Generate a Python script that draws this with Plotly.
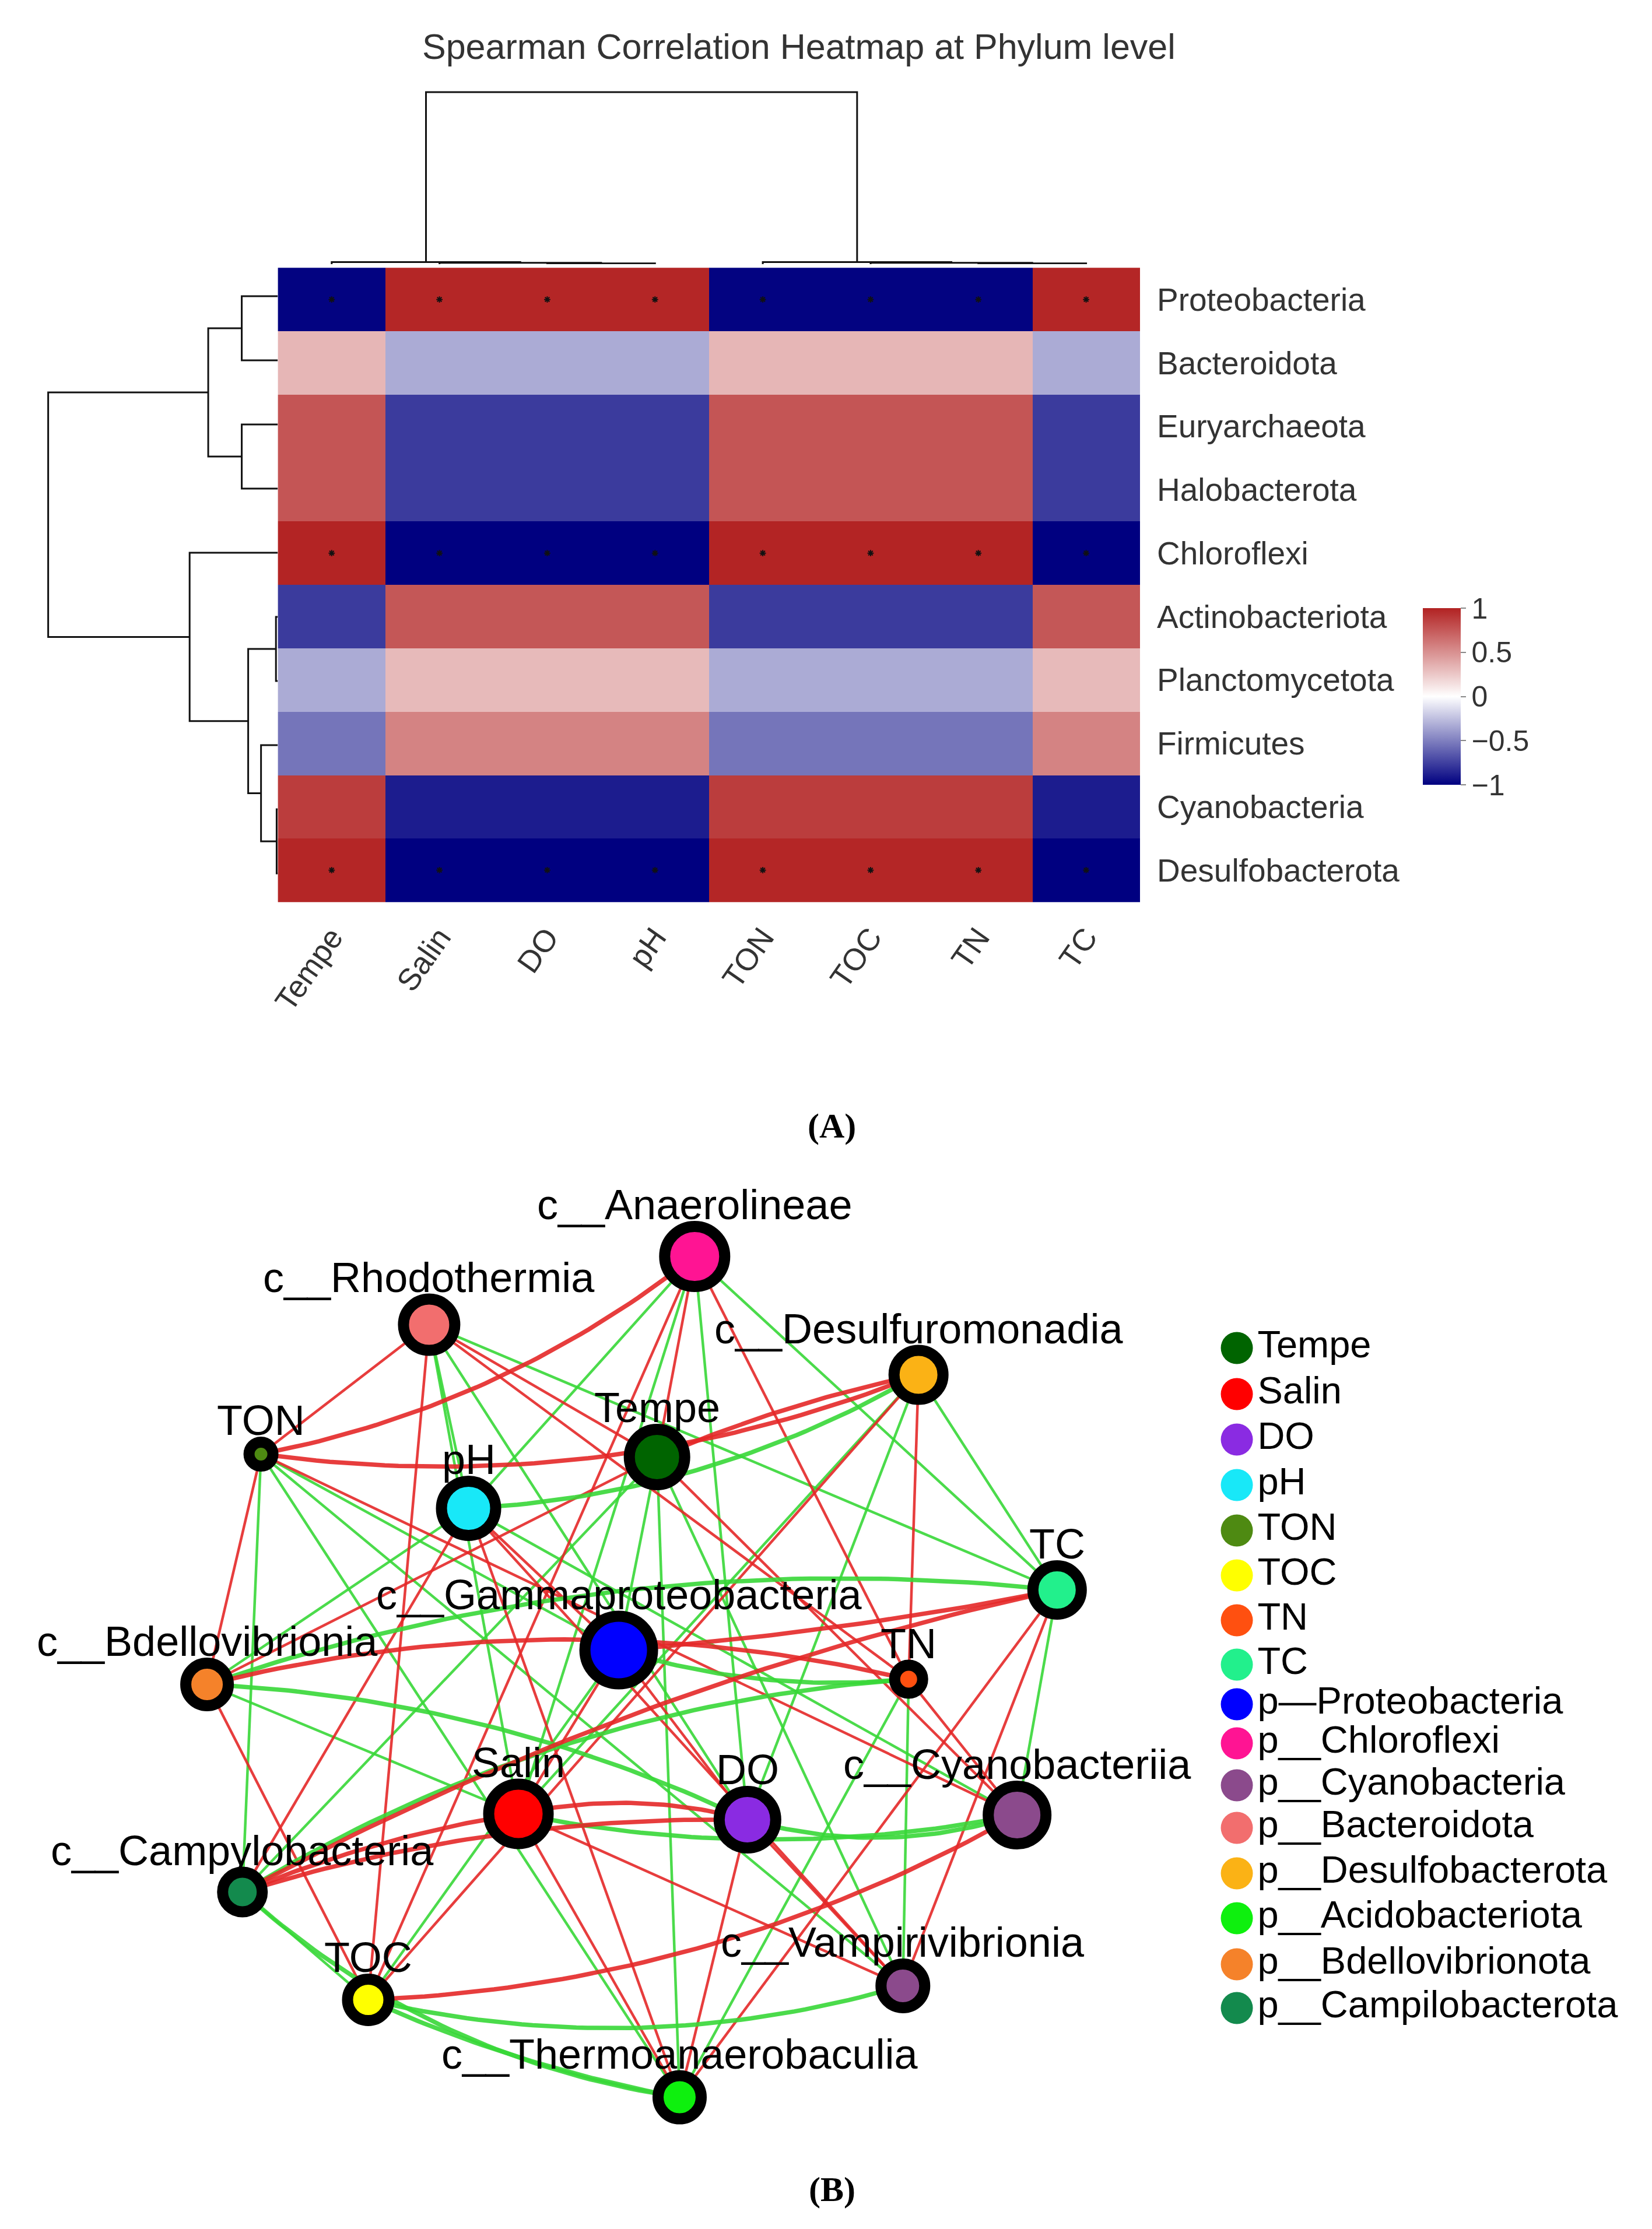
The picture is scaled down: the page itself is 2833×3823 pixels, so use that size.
import numpy as np
import plotly.graph_objects as go

W, H = 2833, 3823

# ======================= Panel A data =======================
env_vars = ["Tempe", "Salin", "DO", "pH", "TON", "TOC", "TN", "TC"]
phyla = ["Proteobacteria", "Bacteroidota", "Euryarchaeota", "Halobacterota", "Chloroflexi",
         "Actinobacteriota", "Planctomycetota", "Firmicutes", "Cyanobacteria", "Desulfobacterota"]

rho_proteobacteria   = [-0.99,  0.98,  0.98,  0.98, -0.99, -0.99, -0.99,  0.98]
rho_bacteroidota     = [ 0.33, -0.33, -0.33, -0.33,  0.33,  0.33,  0.33, -0.33]
rho_euryarchaeota    = [ 0.77, -0.77, -0.77, -0.77,  0.77,  0.77,  0.77, -0.77]
rho_halobacterota    = [ 0.77, -0.77, -0.77, -0.77,  0.77,  0.77,  0.77, -0.77]
rho_chloroflexi      = [ 0.99, -1.00, -1.00, -1.00,  0.99,  0.99,  0.99, -1.00]
rho_actinobacteriota = [-0.77,  0.76,  0.76,  0.76, -0.77, -0.77, -0.77,  0.76]
rho_planctomycetota  = [-0.33,  0.31,  0.31,  0.31, -0.33, -0.33, -0.33,  0.31]
rho_firmicutes       = [-0.54,  0.56,  0.56,  0.56, -0.54, -0.54, -0.54,  0.56]
rho_cyanobacteria    = [ 0.88, -0.89, -0.89, -0.89,  0.88,  0.88,  0.88, -0.89]
rho_desulfobacterota = [ 0.98, -1.00, -1.00, -1.00,  0.98,  0.98,  0.98, -1.00]

# significance marks (1 = '*' drawn in the cell)
sig_proteobacteria   = [1, 1, 1, 1, 1, 1, 1, 1]
sig_chloroflexi      = [1, 1, 1, 1, 1, 1, 1, 1]
sig_desulfobacterota = [1, 1, 1, 1, 1, 1, 1, 1]

# dendrograms: (left, right, height); ids < n are leaves (display order), >= n earlier merges
row_merges = [(0, 1, 0.157), (2, 3, 0.157), (10, 11, 0.303), (5, 6, 0.008), (8, 9, 0.005),
              (7, 14, 0.073), (13, 15, 0.129), (4, 16, 0.384), (12, 17, 1.0)]
col_merges = [(2, 3, 0.004), (1, 8, 0.008), (0, 9, 0.012), (6, 7, 0.004), (5, 11, 0.008),
              (4, 12, 0.012), (10, 13, 1.0)]

colorbar_ticks = [-1, -0.5, 0, 0.5, 1]

# ======================= Panel B data =======================
net_env = ["Tempe", "Salin", "DO", "pH", "TON", "TOC", "TN", "TC"]
net_taxa = ["c__Anaerolineae", "c__Rhodothermia", "c__Desulfuromonadia", "c__Bdellovibrionia",
            "c__Gammaproteobacteria", "c__Campylobacteria", "c__Cyanobacteriia",
            "c__Vampirivibrionia", "c__Thermoanaerobaculia"]
# +1 positive (red edge), -1 negative (green edge); columns follow net_taxa
sign_Tempe = [ 1,  1,  1,  1, -1, -1,  1, -1, -1]
sign_Salin = [-1, -1, -1, -1,  1,  1, -1,  1,  1]
sign_DO    = [-1, -1, -1, -1,  1,  1, -1,  1,  1]
sign_pH    = [-1, -1, -1, -1,  1,  1, -1,  1,  1]
sign_TON   = [ 1,  1,  1,  1, -1, -1,  1, -1, -1]
sign_TOC   = [ 1,  1,  1,  1, -1, -1,  1, -1, -1]
sign_TN    = [ 1,  1,  1,  1, -1, -1,  1, -1, -1]
sign_TC    = [-1, -1, -1, -1,  1,  1, -1,  1,  1]
extra_src  = ["Salin", "c__Campylobacteria"]
extra_dst  = ["DO", "c__Thermoanaerobaculia"]
extra_sign = [1, -1]

legend_labels = ["Tempe", "Salin", "DO", "pH", "TON", "TOC", "TN", "TC",
                 "p\u2014Proteobacteria", "p__Chloroflexi", "p__Cyanobacteria", "p__Bacteroidota",
                 "p__Desulfobacterota", "p__Acidobacteriota", "p__Bdellovibrionota",
                 "p__Campilobacterota"]
legend_colors = ["#006400", "#FF0000", "#8A2BE2", "#18E8F8", "#4E8A12", "#FFFF00", "#FF5010",
                 "#22F08C", "#0000FF", "#FF1493", "#8B4A8C", "#F26E6E", "#FBB215", "#0EF00E",
                 "#F5822A", "#138A4D"]
node_group = {
    "c__Anaerolineae": "p__Chloroflexi", "c__Rhodothermia": "p__Bacteroidota",
    "c__Desulfuromonadia": "p__Desulfobacterota", "c__Bdellovibrionia": "p__Bdellovibrionota",
    "c__Gammaproteobacteria": "p\u2014Proteobacteria", "c__Campylobacteria": "p__Campilobacterota",
    "c__Cyanobacteriia": "p__Cyanobacteria", "c__Vampirivibrionia": "p__Cyanobacteria",
    "c__Thermoanaerobaculia": "p__Acidobacteriota",
}

# ---------------- layout / style (pixel positions) ----------------
node_xy = {
    "c__Anaerolineae": (1182, 2155), "c__Rhodothermia": (724, 2272),
    "c__Desulfuromonadia": (1568, 2358), "TON": (434, 2494), "Tempe": (1117, 2499),
    "pH": (792, 2587), "TC": (1807, 2727), "c__Gammaproteobacteria": (1051, 2830),
    "c__Bdellovibrionia": (341, 2889), "TN": (1551, 2880), "Salin": (878, 3111),
    "DO": (1273, 3121), "c__Cyanobacteriia": (1738, 3113), "c__Campylobacteria": (402, 3245),
    "TOC": (619, 3430), "c__Vampirivibrionia": (1541, 3406), "c__Thermoanaerobaculia": (1156, 3597),
}
node_diam = {
    "c__Anaerolineae": 122, "c__Rhodothermia": 107, "c__Desulfuromonadia": 103, "TON": 60,
    "Tempe": 114, "pH": 112, "TC": 102, "c__Gammaproteobacteria": 135, "c__Bdellovibrionia": 92,
    "TN": 67, "Salin": 121, "DO": 116, "c__Cyanobacteriia": 118, "c__Campylobacteria": 87,
    "TOC": 90, "c__Vampirivibrionia": 94, "c__Thermoanaerobaculia": 93,
}
curv = {
    ("TON", "c__Anaerolineae"): 0.12, ("TON", "c__Desulfuromonadia"): 0.13,
    ("Tempe", "c__Desulfuromonadia"): -0.05, ("pH", "c__Desulfuromonadia"): 0.12,
    ("c__Bdellovibrionia", "TC"): -0.11, ("c__Bdellovibrionia", "TN"): -0.12,
    ("c__Gammaproteobacteria", "TN"): 0.10, ("c__Gammaproteobacteria", "TC"): 0.03,
    ("Salin", "DO"): -0.12, ("Salin", "c__Cyanobacteriia"): 0.10, ("DO", "c__Cyanobacteriia"): 0.15,
    ("c__Campylobacteria", "Salin"): -0.06, ("c__Campylobacteria", "DO"): -0.08,
    ("TOC", "c__Cyanobacteriia"): 0.12, ("TOC", "c__Vampirivibrionia"): 0.13,
    ("TOC", "c__Thermoanaerobaculia"): 0.06, ("c__Campylobacteria", "c__Thermoanaerobaculia"): 0.15,
    ("c__Bdellovibrionia", "DO"): -0.10, ("c__Campylobacteria", "TN"): -0.12,
    ("c__Campylobacteria", "TC"): -0.07,
}
legend_y = [2312, 2391, 2469, 2547, 2625, 2702, 2779, 2855, 2923, 2990, 3062, 3135, 3213, 3290,
            3369, 3444]
FONT = "Liberation Sans, Arial, sans-serif"
HM_L, HM_R, HM_T, HM_B = 463, 1950, 453, 1553
ROW_DENDRO_PX = 396
COL_DENDRO_PX = 295


def px_x(p):
    return p / W


def px_y(p):
    return 1 - p / H


fig = go.Figure()

# ---------------- heatmap ----------------
z = [rho_proteobacteria, rho_bacteroidota, rho_euryarchaeota, rho_halobacterota, rho_chloroflexi,
     rho_actinobacteriota, rho_planctomycetota, rho_firmicutes, rho_cyanobacteria,
     rho_desulfobacterota]
fig.add_trace(go.Heatmap(
    z=z, x=env_vars, y=phyla, zmin=-1, zmax=1, xaxis="x", yaxis="y", hoverinfo="skip",
    colorscale=[[0, "#000080"], [0.5, "#FFFFFF"], [1, "#B22222"]],
    colorbar=dict(x=px_x(2438), xanchor="left", y=px_y(1194.5), yanchor="middle",
                  lenmode="pixels", len=303, thicknessmode="pixels", thickness=65,
                  outlinewidth=0, ticks="outside", ticklen=9, tickwidth=2, tickcolor="#888",
                  tickvals=colorbar_ticks, tickfont=dict(size=50, color="#333", family=FONT),
                  xpad=0, ypad=0),
))

sig_rows = {"Proteobacteria": sig_proteobacteria, "Chloroflexi": sig_chloroflexi,
            "Desulfobacterota": sig_desulfobacterota}
sx, sy = [], []
for ph, flags in sig_rows.items():
    for e, f in zip(env_vars, flags):
        if f:
            sx.append(e)
            sy.append(ph)
fig.add_trace(go.Scatter(x=sx, y=sy, mode="markers", xaxis="x", yaxis="y", hoverinfo="skip",
                         marker=dict(symbol="asterisk-open", size=9, color="#111", opacity=1,
                                     line=dict(width=2, color="#111"))))


def dendro(merges, n):
    pos = {i: float(i) for i in range(n)}
    hgt = {i: 0.0 for i in range(n)}
    ps, hs = [], []
    for k, (a, b, h) in enumerate(merges):
        ps += [pos[a], pos[a], pos[b], pos[b], None]
        hs += [hgt[a], h, h, hgt[b], None]
        pos[n + k] = (pos[a] + pos[b]) / 2
        hgt[n + k] = h
    return ps, hs


cp, ch = dendro(col_merges, len(env_vars))
fig.add_trace(go.Scatter(x=cp, y=ch, mode="lines", xaxis="x2", yaxis="y2", hoverinfo="skip",
                         line=dict(color="#111", width=3)))
rp, rh = dendro(row_merges, len(phyla))
fig.add_trace(go.Scatter(x=rh, y=rp, mode="lines", xaxis="x3", yaxis="y3", hoverinfo="skip",
                         line=dict(color="#111", width=3)))

# ---------------- network ----------------
sign_rows = {"Tempe": sign_Tempe, "Salin": sign_Salin, "DO": sign_DO, "pH": sign_pH,
             "TON": sign_TON, "TOC": sign_TOC, "TN": sign_TN, "TC": sign_TC}
edges = []
for env in net_env:
    for tx, s in zip(net_taxa, sign_rows[env]):
        if s != 0:
            edges.append((env, tx, s))
for a, b, s in zip(extra_src, extra_dst, extra_sign):
    edges.append((a, b, s))


def edge_path(a, b, c, n=50):
    x0, y0 = node_xy[a]
    x1, y1 = node_xy[b]
    if c == 0:
        return [x0, x1], [y0, y1]
    dx, dy = x1 - x0, y1 - y0
    cx = (x0 + x1) / 2 - c * dy
    cy = (y0 + y1) / 2 + c * dx
    t = np.linspace(0, 1, n)
    bx = (1 - t) ** 2 * x0 + 2 * (1 - t) * t * cx + t ** 2 * x1
    by = (1 - t) ** 2 * y0 + 2 * (1 - t) * t * cy + t ** 2 * y1
    return list(bx), list(by)


groups = {}
for a, b, s in edges:
    if (a, b) in curv:
        c = curv[(a, b)]
    elif (b, a) in curv:
        c = -curv[(b, a)]
    else:
        c = 0
    key = ("thick" if c != 0 else "thin", s)
    xs, ys = edge_path(a, b, c)
    gx, gy = groups.setdefault(key, ([], []))
    gx += xs + [None]
    gy += ys + [None]

edge_color = {1: "rgba(228,40,40,0.9)", -1: "rgba(55,215,55,0.9)"}
edge_width = {"thin": 4.5, "thick": 7.5}
for key in [("thin", -1), ("thin", 1), ("thick", -1), ("thick", 1)]:
    if key in groups:
        gx, gy = groups[key]
        fig.add_trace(go.Scatter(x=gx, y=gy, mode="lines", xaxis="x4", yaxis="y4",
                                 hoverinfo="skip",
                                 line=dict(color=edge_color[key[1]], width=edge_width[key[0]])))

color_of = dict(zip(legend_labels, legend_colors))
BORDER = 19
nodes = list(node_xy.keys())
fig.add_trace(go.Scatter(
    x=[node_xy[n][0] for n in nodes], y=[node_xy[n][1] for n in nodes], mode="markers",
    xaxis="x4", yaxis="y4", hoverinfo="skip", opacity=1,
    marker=dict(size=[node_diam[n] - BORDER for n in nodes], opacity=1,
                color=[color_of[node_group.get(n, n)] for n in nodes],
                line=dict(color="black", width=BORDER)),
))

annotations = []
for n in nodes:
    x, y = node_xy[n]
    annotations.append(dict(x=x, y=y - node_diam[n] / 2 - 28, xref="x4", yref="y4", text=n,
                            showarrow=False, xanchor="center", yanchor="middle",
                            font=dict(size=72, color="black", family=FONT)))

# legend for panel B
fig.add_trace(go.Scatter(
    x=[2117] * len(legend_labels), y=legend_y, mode="markers+text", xaxis="x4", yaxis="y4",
    text=legend_labels, textposition="middle right", hoverinfo="skip",
    textfont=dict(size=65, color="black", family=FONT),
    marker=dict(size=55, color=legend_colors, opacity=1, line=dict(width=0)),
))

# titles / panel letters
annotations.append(dict(x=px_x(1362), y=px_y(80), xref="paper", yref="paper",
                        text="Spearman Correlation Heatmap at Phylum level", showarrow=False,
                        xanchor="center", yanchor="middle",
                        font=dict(size=61, color="#333", family=FONT)))
annotations.append(dict(x=px_x(1419), y=px_y(1931), xref="paper", yref="paper", text="<b>(A)</b>",
                        showarrow=False, xanchor="center", yanchor="middle",
                        font=dict(size=60, color="black", family="Liberation Serif, serif")))
annotations.append(dict(x=px_x(1419), y=px_y(3755), xref="paper", yref="paper", text="<b>(B)</b>",
                        showarrow=False, xanchor="center", yanchor="middle",
                        font=dict(size=60, color="black", family="Liberation Serif, serif")))

hidden = dict(visible=False, showgrid=False, zeroline=False, fixedrange=True)
NET_TOP_FRAC = 0.48
fig.update_layout(
    width=W, height=H, margin=dict(l=0, r=0, t=0, b=0), showlegend=False,
    paper_bgcolor="white", plot_bgcolor="white",
    xaxis=dict(domain=[px_x(HM_L), px_x(HM_R)], anchor="y", tickangle=-55, ticks="",
               tickfont=dict(size=53, color="#333", family=FONT), showgrid=False,
               zeroline=False, showline=False, ticklabelstandoff=12),
    yaxis=dict(domain=[px_y(HM_B), px_y(HM_T)], anchor="x", side="right", autorange="reversed",
               ticks="", tickfont=dict(size=55, color="#333", family=FONT), showgrid=False,
               zeroline=False, showline=False, ticklabelstandoff=28),
    xaxis2=dict(domain=[px_x(HM_L), px_x(HM_R)], anchor="y2", range=[-0.5, 7.5], **hidden),
    yaxis2=dict(domain=[px_y(HM_T), px_y(HM_T - COL_DENDRO_PX * 1.05)], anchor="x2",
                range=[0, 1.05], **hidden),
    xaxis3=dict(domain=[0, px_x(HM_L)], anchor="y3", range=[HM_L / ROW_DENDRO_PX, 0], **hidden),
    yaxis3=dict(domain=[px_y(HM_B), px_y(HM_T)], anchor="x3", range=[9.5, -0.5], **hidden),
    xaxis4=dict(domain=[0, 1], anchor="y4", range=[0, W], **hidden),
    yaxis4=dict(domain=[0, NET_TOP_FRAC], anchor="x4", range=[H, H * (1 - NET_TOP_FRAC)], **hidden),
    annotations=annotations,
)

fig.write_html("out.html", config={"displayModeBar": False},
               post_script="document.body.style.margin='0';")
